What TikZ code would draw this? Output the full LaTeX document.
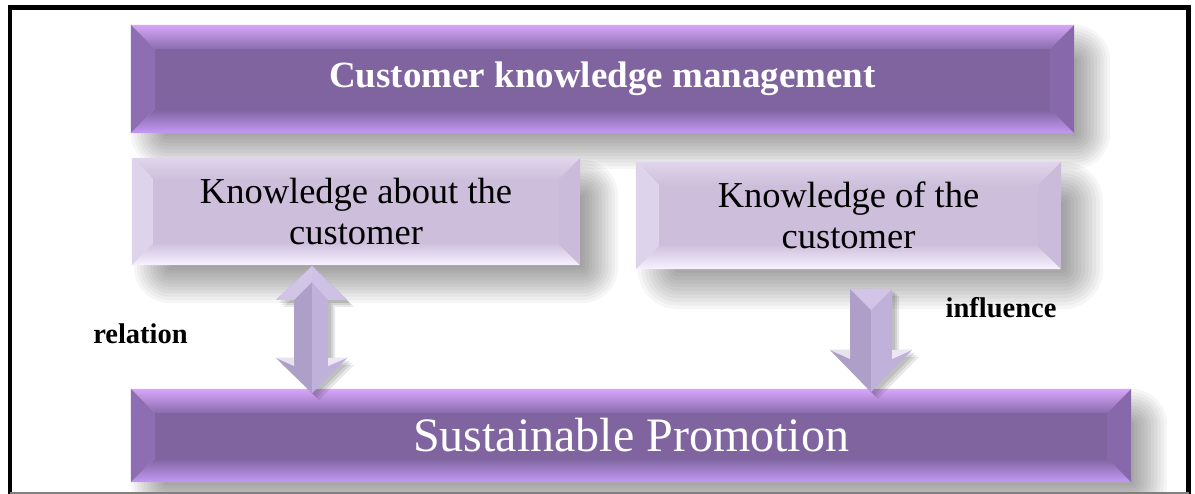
\documentclass[tikz,border=0pt]{standalone}
\usepackage{fontspec}
\setmainfont{Liberation Serif}
\usetikzlibrary{calc}
\pgfdeclarelayer{shadowlayer}
\pgfdeclarelayer{bevellayer}
\pgfsetlayers{shadowlayer,bevellayer,main}

\definecolor{dmid}{HTML}{7F64A0}
\definecolor{dtopout}{HTML}{D8A6FA}
\definecolor{dtopin}{HTML}{8A6DAE}
\definecolor{dbotin}{HTML}{7F64A0}
\definecolor{dbotout}{HTML}{C49AF5}
\definecolor{dleft}{HTML}{8D6EB3}
\definecolor{dright}{HTML}{8668AB}
\definecolor{lmid}{HTML}{CDBFDB}
\definecolor{ltopout}{HTML}{E0D5EC}
\definecolor{ltopin}{HTML}{CDC0DB}
\definecolor{lbotin}{HTML}{D0C3DF}
\definecolor{lbotout}{HTML}{F8F2FF}
\definecolor{lleft}{HTML}{DDD3EA}
\definecolor{lright}{HTML}{C9BBD9}
\definecolor{arrL}{HTML}{AE9FC8}
\definecolor{arrR}{HTML}{BFB1D9}
\definecolor{arrCap}{HTML}{D1C4E7}

% bevelled box drawn behind a named node
% #1 node, #2 inset, #3 centre, #4 top outer, #5 top inner, #6 bottom inner, #7 bottom outer, #8 left, #9 right
\newcommand\mybevelbox[9]{%
  \begin{pgfonlayer}{bevellayer}
    \coordinate (bnw) at (#1.north west);
    \coordinate (bne) at (#1.north east);
    \coordinate (bsw) at (#1.south west);
    \coordinate (bse) at (#1.south east);
    \coordinate (inw) at ($(bnw)+(#2,#2)$);
    \coordinate (ine) at ($(bne)+(-#2,#2)$);
    \coordinate (isw) at ($(bsw)+(#2,-#2)$);
    \coordinate (ise) at ($(bse)+(-#2,-#2)$);
    \fill[#3] (inw) rectangle (ise);
    \shade[top color=#4, bottom color=#5] (bnw) -- (bne) -- (ine) -- (inw) -- cycle;
    \shade[top color=#6, bottom color=#7] (isw) -- (ise) -- (bse) -- (bsw) -- cycle;
    \fill[#8] (bnw) -- (inw) -- (isw) -- (bsw) -- cycle;
    \fill[#9] (bne) -- (ine) -- (ise) -- (bse) -- cycle;
  \end{pgfonlayer}}

% soft blurred shadow of a named node: #1 node, #2 dx, #3 dy, #4 blur radius
\newcommand\mysoftshadow[4]{%
  \begin{pgfonlayer}{shadowlayer}
  \foreach \k in {0,...,11}{%
    \pgfmathsetmacro\ee{#4*(\k/5.5-1)}%
    \pgfmathsetmacro\rr{#4+\ee}%
    \fill[black,opacity=0.034,rounded corners=\rr pt]
      ($(#1.north west)+({#2-(\ee)},{#3-(\ee)})$) rectangle
      ($(#1.south east)+({#2+(\ee)},{#3+(\ee)})$);
  }
  \end{pgfonlayer}}

\tikzset{
  boxnode/.style={rectangle, inner sep=0pt, align=center},
  darktext/.style={text=white},
  lighttext/.style={text=black},
  labeltext/.style={font=\fontsize{28.5}{32}\selectfont\bfseries, text=black, inner sep=0pt},
  arrowshadow/.style={fill=black, opacity=0.09},
}

\begin{document}
\begin{tikzpicture}[x=1pt,y=-1pt]
\useasboundingbox (0,0) rectangle (1195,494);
\begin{pgfonlayer}{shadowlayer}
  \fill[white] (0,0) rectangle (1195,494);
\end{pgfonlayer}

% boxes
\node[boxnode, darktext, minimum width=943pt, minimum height=108pt,
      font=\fontsize{37}{42}\selectfont\bfseries] (ckm) at (602.5,79) {Customer knowledge management};
\node[boxnode, lighttext, minimum width=448pt, minimum height=107pt,
      font=\fontsize{36.5}{41}\selectfont] (kab) at (356,211.5) {Knowledge about the\\customer};
\node[boxnode, lighttext, minimum width=425pt, minimum height=107pt,
      font=\fontsize{36.5}{41}\selectfont] (kof) at (848.5,215.5) {Knowledge of the\\customer};
\node[boxnode, darktext, minimum width=1000pt, minimum height=93pt,
      font=\fontsize{48}{56}\selectfont] (sp) at (631,435.5) {Sustainable Promotion};

% labels
\node[labeltext] (rel) at (140.5,334) {relation};
\node[labeltext] (inf) at (1001,308) {influence};

% shadows
\mysoftshadow{ckm}{18}{18}{18}
\mysoftshadow{kab}{20}{20}{18}
\mysoftshadow{kof}{22}{20}{20}
\mysoftshadow{sp}{18}{18}{18}

% bevels
\mybevelbox{ckm}{24}{dmid}{dtopout}{dtopin}{dbotin}{dbotout}{dleft}{dright}
\mybevelbox{kab}{21}{lmid}{ltopout}{ltopin}{lbotin}{lbotout}{lleft}{lright}
\mybevelbox{kof}{23}{lmid}{ltopout}{ltopin}{lbotin}{lbotout}{lleft}{lright}
\mybevelbox{sp}{24}{dmid}{dtopout}{dtopin}{dbotin}{dbotout}{dleft}{dright}

% double arrow (relation) between kab and sp
\coordinate (dt) at (312,266);
\coordinate (db) at (312,393);
\foreach \s in {3,5,7}{
  \fill[arrowshadow] ([shift={(\s,\s)}]dt) -- ++(35,34) -- ++(-19,0) -- ++(0,58) -- ++(19,0)
     -- ([shift={(\s,\s)}]db) -- ++(-36,-35) -- ++(18,0) -- ++(0,-58) -- ++(-18,0) -- cycle;
}
\fill[arrL] (dt) -- (db) -- ++(-36,-35) -- ++(18,0) -- ++(0,-58) -- ++(-18,0) -- cycle;
\fill[arrR] (dt) -- ++(35,34) -- ++(-19,0) -- ++(0,58) -- ++(19,0) -- (db) -- cycle;
\fill[arrCap] (dt) -- ++(-36,34) -- ++(18,0) -- ($(dt)+(0,16)$) -- cycle;
\fill[arrCap!85!arrR] (dt) -- ++(35,34) -- ++(-19,0) -- ($(dt)+(0,16)$) -- cycle;
\fill[white,opacity=0.7] ($(db)+(-36,-35)$) -- ++(18,0) -- ++(0,8) -- cycle;
\fill[white,opacity=0.7] ($(db)+(35,-35)$) -- ++(-19,0) -- ++(0,8) -- cycle;

% down arrow (influence) between kof and sp
\coordinate (ut) at (871,289);
\coordinate (ub) at (871,392);
\foreach \s in {3,5,7}{
  \fill[arrowshadow] ([shift={(\s,\s)}]ut) -- ++(21,0) -- ++(0,61) -- ++(20,0)
     -- ([shift={(\s,\s)}]ub) -- ++(-41,-42) -- ++(20,0) -- ++(0,-61) -- cycle;
}
\fill[arrL] (ut) -- (ub) -- ++(-41,-42) -- ++(20,0) -- ++(0,-61) -- cycle;
\fill[arrR] (ut) -- ++(21,0) -- ++(0,61) -- ++(20,0) -- (ub) -- cycle;
\fill[arrCap] ($(ut)+(-21,0)$) -- ($(ut)+(21,0)$) -- ($(ut)+(0,21)$) -- cycle;
\fill[white,opacity=0.7] ($(ub)+(-41,-42)$) -- ++(20,0) -- ++(0,9) -- cycle;
\fill[white,opacity=0.7] ($(ub)+(41,-42)$) -- ++(-20,0) -- ++(0,9) -- cycle;

% frame
\draw[line width=4.5pt] (10,494) -- (10,7.5) -- (1188.5,7.5) -- (1188.5,494);
\draw[gray, line width=1.5pt] (10,493) -- (1188.5,493);
\end{tikzpicture}
\end{document}
